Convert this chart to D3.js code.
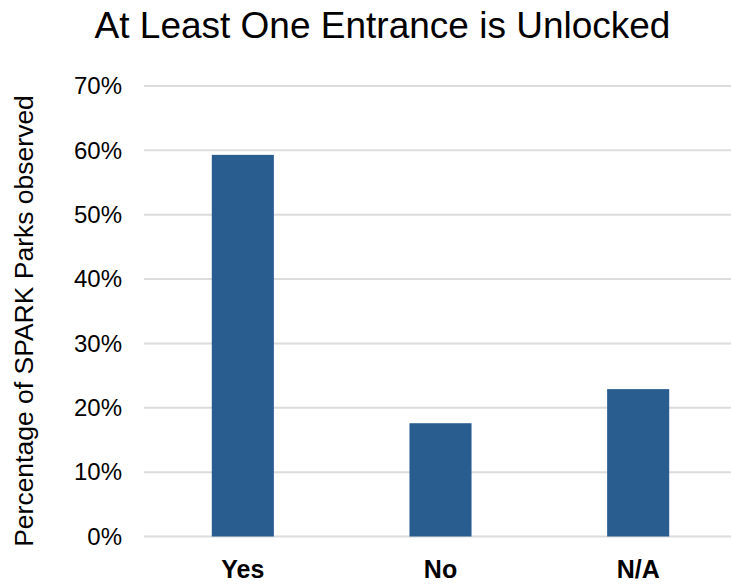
<!DOCTYPE html>
<html>
<head>
<meta charset="utf-8">
<script src="https://cdn.jsdelivr.net/npm/d3@7"></script>
<style>
  html, body { margin: 0; padding: 0; background: #fff; }
  svg { display: block; }
  text { font-family: "Liberation Sans", Arial, Helvetica, sans-serif; }
</style>
</head>
<body>
<div id="chart"></div>
<script>
const categories = ["Yes", "No", "N/A"];
const values = [0.593, 0.176, 0.229];
const yTicks = [0, 0.1, 0.2, 0.3, 0.4, 0.5, 0.6, 0.7];
const title = "At Least One Entrance is Unlocked";
const yLabel = "Percentage of SPARK Parks observed";

const W = 731, H = 584;
const plot = { left: 144, right: 737, top: 86, bottom: 536.5 };

const svg = d3.select("#chart").append("svg")
  .attr("width", W).attr("height", H);

const x = d3.scaleBand().domain(categories)
  .range([plot.left, plot.right])
  .paddingInner(0.686).paddingOuter(0.343);
const y = d3.scaleLinear().domain([0, 0.7]).range([plot.bottom, plot.top]);

// gridlines
svg.append("g").selectAll("line").data(yTicks).join("line")
  .attr("x1", plot.left).attr("x2", plot.right)
  .attr("y1", d => y(d)).attr("y2", d => y(d))
  .attr("stroke", "#dcdcdc").attr("stroke-width", 2);

// y axis labels
const yAxis = d3.axisLeft(y).tickValues(yTicks).tickFormat(d3.format(".0%")).tickSize(0).tickPadding(22);
const gy = svg.append("g").attr("transform", `translate(${plot.left},0)`).call(yAxis);
gy.select(".domain").remove();
gy.selectAll("text").attr("font-size", 24).attr("fill", "#000")
  .attr("font-family", "'Liberation Sans', Arial, sans-serif");

// bars
svg.append("g").selectAll("rect").data(categories).join("rect")
  .attr("x", d => x(d))
  .attr("width", x.bandwidth())
  .attr("y", (d, i) => y(values[i]))
  .attr("height", (d, i) => y(0) - y(values[i]))
  .attr("fill", "#295c8f");

// x axis labels
const xAxis = d3.axisBottom(x).tickSize(0).tickPadding(24);
const gx = svg.append("g").attr("transform", `translate(0,${plot.bottom})`).call(xAxis);
gx.select(".domain").remove();
gx.selectAll("text").attr("font-size", 25).attr("font-weight", "bold").attr("fill", "#000")
  .attr("font-family", "'Liberation Sans', Arial, sans-serif");

// title
svg.append("text").attr("x", 382.5).attr("y", 38)
  .attr("text-anchor", "middle").attr("font-size", 37).attr("fill", "#000")
  .text(title);

// y label
svg.append("text")
  .attr("transform", `translate(33,321) rotate(-90)`)
  .attr("text-anchor", "middle").attr("font-size", 26.5).attr("fill", "#000")
  .text(yLabel);
</script>
</body>
</html>
